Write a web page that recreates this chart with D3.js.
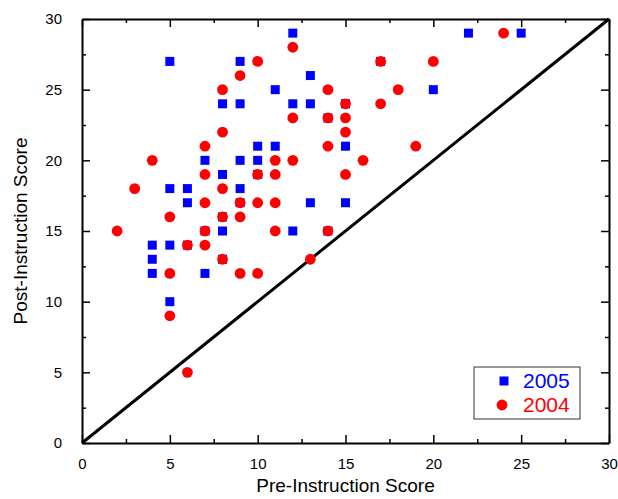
<!DOCTYPE html>
<html>
<head>
<meta charset="utf-8">
<script src="https://cdn.jsdelivr.net/npm/d3@7"></script>
<style>
  html, body { margin: 0; padding: 0; background: #fff; overflow: hidden; }
  svg { display: block; }
  svg text { font-family: "Liberation Sans", Arial, sans-serif; }
</style>
</head>
<body>
<div id="plot"></div>
<script>
// Pre vs post instruction scores, two years

const w = 618;
const h = 499;
const margin = {top: 19, right: 9, bottom: 56, left: 82};
const innerWidth = w - margin.left - margin.right;
const innerHeight = h - margin.top - margin.bottom;

const majorTicks = [0, 5, 10, 15, 20, 25, 30];
const minorTicks = [2.5, 7.5, 12.5, 17.5, 22.5, 27.5];

// 2005 (blue squares): [pre, post]
const pre2005  = [5, 9, 12, 22, 25, 17, 13, 11, 20, 8, 9, 12, 13, 15, 14, 10, 11, 15, 7, 9, 10, 8, 10, 5, 6, 9, 6, 9, 13, 15, 8, 7, 8, 12, 14, 4, 5, 6, 4, 8, 4, 7, 5];
const post2005 = [27, 27, 29, 29, 29, 27, 26, 25, 25, 24, 24, 24, 24, 24, 23, 21, 21, 21, 20, 20, 20, 19, 19, 18, 18, 18, 17, 17, 17, 17, 16, 15, 15, 15, 15, 14, 14, 14, 13, 13, 12, 12, 10];

// 2004 (red circles)
const pre2004  = [24, 12, 10, 17, 20, 9, 8, 14, 18, 15, 17, 12, 14, 15, 8, 15, 7, 14, 19, 4, 11, 12, 16, 7, 10, 11, 15, 3, 8, 7, 9, 10, 11, 5, 8, 9, 2, 7, 11, 14, 6, 7, 8, 13, 5, 9, 10, 5, 6];
const post2004 = [29, 28, 27, 27, 27, 26, 25, 25, 25, 24, 24, 23, 23, 23, 22, 22, 21, 21, 21, 20, 20, 20, 20, 19, 19, 19, 19, 18, 18, 17, 17, 17, 17, 16, 16, 16, 15, 15, 15, 15, 14, 14, 13, 13, 12, 12, 12, 9, 5];

const series = [
  {name: "2005", color: "#0000ff", shape: "square", xs: pre2005, ys: post2005},
  {name: "2004", color: "#ff0000", shape: "circle", xs: pre2004, ys: post2004}
];

const xScale = d3.scaleLinear().domain([0, 30]).range([0, innerWidth]);
const yScale = d3.scaleLinear().domain([0, 30]).range([innerHeight, 0]);

const svg = d3.select("div#plot")
  .append("svg")
  .attr("width", w)
  .attr("height", h);

const g = svg.append("g")
  .attr("transform", `translate(${margin.left}, ${margin.top})`);

// diagonal y = x
g.append("line")
  .attr("x1", xScale(0))
  .attr("y1", yScale(0))
  .attr("x2", xScale(30))
  .attr("y2", yScale(30))
  .attr("stroke", "#000")
  .attr("stroke-width", 3);

// markers: squares first, circles on top
const sq = 9;
g.append("g").selectAll("rect")
  .data(d3.zip(series[0].xs, series[0].ys))
  .enter().append("rect")
  .attr("x", d => xScale(d[0]) - sq / 2)
  .attr("y", d => yScale(d[1]) - sq / 2)
  .attr("width", sq)
  .attr("height", sq)
  .attr("fill", series[0].color);

g.append("g").selectAll("circle")
  .data(d3.zip(series[1].xs, series[1].ys))
  .enter().append("circle")
  .attr("cx", d => xScale(d[0]))
  .attr("cy", d => yScale(d[1]))
  .attr("r", 5.4)
  .attr("fill", series[1].color);

// axes, ticks pointing inward
function styleAxis(sel) {
  sel.select(".domain").attr("stroke", "#000").attr("stroke-width", 2);
  sel.selectAll(".tick line").attr("stroke", "#000").attr("stroke-width", 1.5);
  sel.selectAll(".tick text")
    .attr("fill", "#000")
    .style("font-size", "15px");
  // drop the empty labels of the unlabelled axes
  sel.selectAll(".tick text").filter(function() { return !this.textContent; }).remove();
}

const bottom = g.append("g")
  .attr("transform", `translate(0, ${innerHeight})`)
  .call(d3.axisBottom(xScale).tickValues(majorTicks).tickSize(-8).tickSizeOuter(0).tickPadding(12))
  .call(styleAxis);
bottom.selectAll(".tick text").attr("dy", "0.9em");

g.append("g")
  .attr("transform", `translate(0, ${innerHeight})`)
  .call(d3.axisBottom(xScale).tickValues(minorTicks).tickSize(-4).tickFormat(""))
  .call(styleAxis)
  .select(".domain").remove();

g.append("g")
  .call(d3.axisTop(xScale).tickValues(majorTicks).tickSize(-8).tickSizeOuter(0).tickFormat(""))
  .call(styleAxis);
g.append("g")
  .call(d3.axisTop(xScale).tickValues(minorTicks).tickSize(-4).tickFormat(""))
  .call(styleAxis)
  .select(".domain").remove();

g.append("g")
  .call(d3.axisLeft(yScale).tickValues(majorTicks).tickSize(-8).tickSizeOuter(0).tickPadding(20))
  .call(styleAxis);
g.append("g")
  .call(d3.axisLeft(yScale).tickValues(minorTicks).tickSize(-4).tickFormat(""))
  .call(styleAxis)
  .select(".domain").remove();

g.append("g")
  .attr("transform", `translate(${innerWidth}, 0)`)
  .call(d3.axisRight(yScale).tickValues(majorTicks).tickSize(-8).tickSizeOuter(0).tickFormat(""))
  .call(styleAxis);
g.append("g")
  .attr("transform", `translate(${innerWidth}, 0)`)
  .call(d3.axisRight(yScale).tickValues(minorTicks).tickSize(-4).tickFormat(""))
  .call(styleAxis)
  .select(".domain").remove();

// axis titles
svg.append("text")
  .attr("x", margin.left + innerWidth / 2)
  .attr("y", 492)
  .attr("text-anchor", "middle")
  .style("font-size", "19px")
  .text("Pre-Instruction Score");

svg.append("text")
  .attr("transform", `translate(27, ${margin.top + innerHeight / 2}) rotate(-90)`)
  .attr("text-anchor", "middle")
  .style("font-size", "19px")
  .text("Post-Instruction Score");

// legend
const legend = svg.append("g").attr("transform", "translate(474, 367)");
legend.append("rect")
  .attr("width", 106)
  .attr("height", 52)
  .attr("fill", "#fff")
  .attr("stroke", "#333")
  .attr("stroke-width", 1);

legend.append("rect")
  .attr("x", 30 - sq / 2)
  .attr("y", 14 - sq / 2)
  .attr("width", sq)
  .attr("height", sq)
  .attr("fill", series[0].color);
legend.append("circle")
  .attr("cx", 28)
  .attr("cy", 38)
  .attr("r", 5.4)
  .attr("fill", series[1].color);

legend.selectAll("text.lab")
  .data(series)
  .enter().append("text")
  .attr("class", "lab")
  .attr("x", 49)
  .attr("y", (d, i) => 21 + i * 24)
  .attr("fill", d => d.color)
  .style("font-size", "21px")
  .text(d => d.name);
</script>
</body>
</html>
